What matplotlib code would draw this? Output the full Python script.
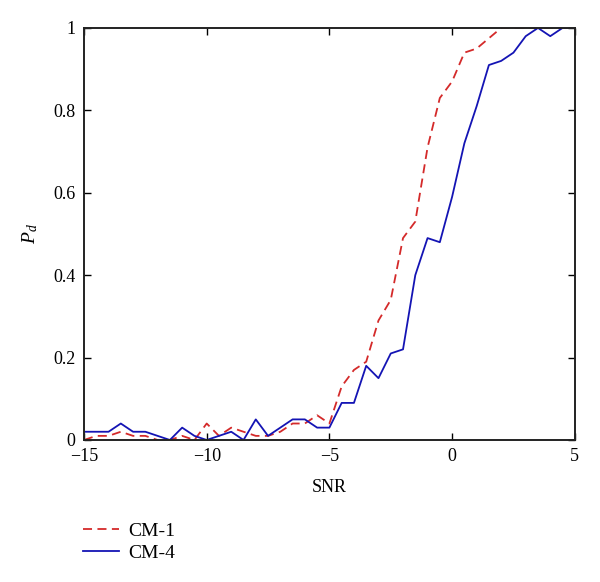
import matplotlib
matplotlib.use("Agg")
import matplotlib.pyplot as plt
import numpy as np

plt.rcParams['font.family'] = ['Liberation Serif', 'DejaVu Serif']
plt.rcParams['mathtext.fontset'] = 'custom'
plt.rcParams['mathtext.it'] = 'Liberation Serif:italic'
plt.rcParams['mathtext.rm'] = 'Liberation Serif'

snr = np.arange(-15, 5.01, 0.5)
cm1 = [0.00, 0.01, 0.01, 0.02, 0.01, 0.01, 0.00, 0.00, 0.01, 0.00,
       0.04, 0.01, 0.03, 0.02, 0.01, 0.01, 0.02, 0.04, 0.04, 0.06,
       0.04, 0.13, 0.17, 0.19, 0.29, 0.34, 0.49, 0.53, 0.71, 0.83,
       0.87, 0.94, 0.95, 0.975, 1.00, 1.00, 1.00, 1.00, 1.00, 1.00, 1.00]
cm4 = [0.02, 0.02, 0.02, 0.04, 0.02, 0.02, 0.01, 0.00, 0.03, 0.01,
       0.00, 0.01, 0.02, 0.00, 0.05, 0.01, 0.03, 0.05, 0.05, 0.03,
       0.03, 0.09, 0.09, 0.18, 0.15, 0.21, 0.22, 0.40, 0.49, 0.48,
       0.59, 0.72, 0.81, 0.91, 0.92, 0.94, 0.98, 1.00, 0.98, 1.00, 1.00]
labels = ['CM-1', 'CM-4']

fig = plt.figure(figsize=(6, 5.82), dpi=100)
ax = fig.add_axes([0.14, 0.244, 0.818, 0.708])
l1, = ax.plot(snr, cm1, color='#d42a2a', linestyle=(0, (5, 3)), lw=1.3, label=labels[0])
l2, = ax.plot(snr, cm4, color='#1414b4', linestyle='-', lw=1.3, label=labels[1])

ax.set_xlim(-15, 5)
ax.set_ylim(0, 1)
ax.set_xticks([-15, -10, -5, 0, 5])
ax.set_xticklabels(['\u221215', '\u221210', '\u22125', '0', '5'])
ax.set_yticks([0, 0.2, 0.4, 0.6, 0.8, 1.0])
ax.set_yticklabels(['0', '0.2', '0.4', '0.6', '0.8', '1'])
ax.tick_params(direction='in', top=True, right=True, labelsize=13, length=5, width=1, pad=6)
for s in ax.spines.values():
    s.set_linewidth(1.4)
    s.set_color('#222222')
ax.set_xlabel('SNR', fontsize=13, labelpad=10)
ax.set_ylabel('$P_d$', fontsize=14, labelpad=10)

fig.legend(handles=[l1, l2], loc='upper left', bbox_to_anchor=(0.138, 0.102),
           frameon=False, fontsize=14, handlelength=1.85, handletextpad=0.5,
           labelspacing=0.2, borderaxespad=0, borderpad=0)

fig.savefig('out.png', dpi=100)
